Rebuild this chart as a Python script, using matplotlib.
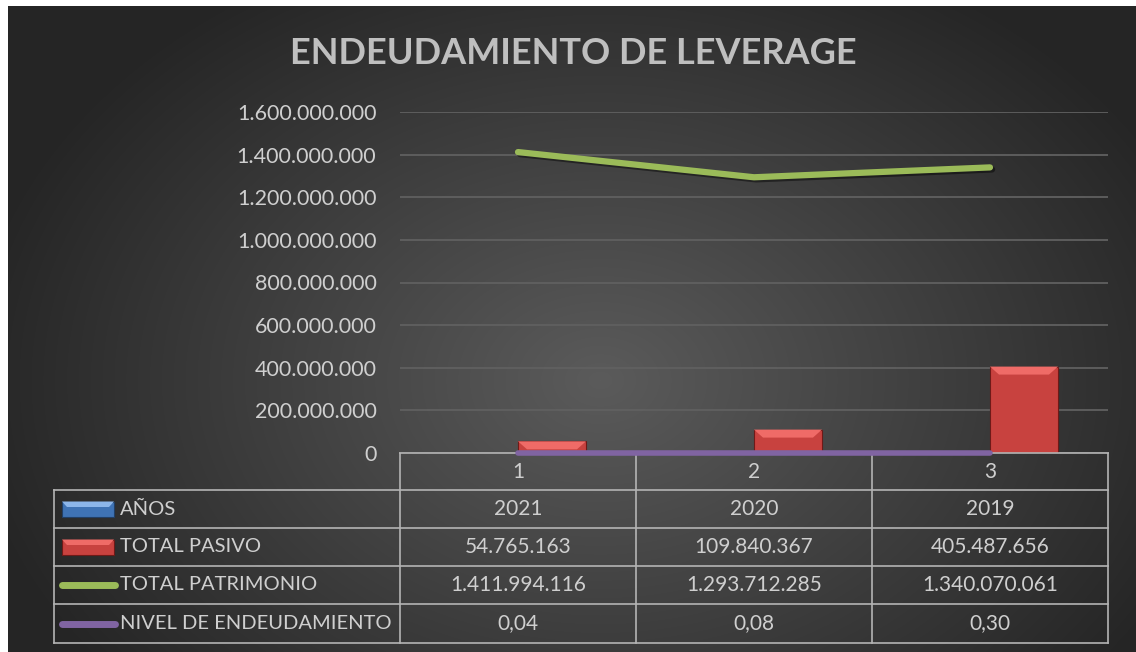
import numpy as np
import matplotlib.pyplot as plt
from matplotlib.patches import Polygon, Rectangle
from matplotlib import patheffects as pe
from matplotlib.ticker import FuncFormatter
from matplotlib.transforms import blended_transform_factory

plt.rcParams['font.family'] = ['Lato', 'DejaVu Sans']

# data
categorias = ['1', '2', '3']
anios = [2021, 2020, 2019]
total_pasivo = [54765163, 109840367, 405487656]
total_patrimonio = [1411994116, 1293712285, 1340070061]
nivel_endeudamiento = [0.04, 0.08, 0.30]
series = ['AÑOS', 'TOTAL PASIVO', 'TOTAL PATRIMONIO', 'NIVEL DE ENDEUDAMIENTO']
titulo = 'ENDEUDAMIENTO DE LEVERAGE'


def miles(v):
    return f"{int(round(v)):,}".replace(',', '.')


def decimal(v):
    return f"{v:.2f}".replace('.', ',')


W, H = 1136, 652
fig = plt.figure(figsize=(W / 100, H / 100), dpi=100, facecolor='white')

# background with radial gradient
bg = fig.add_axes([0, 0, 1, 1], zorder=0)
bg.set_xlim(0, W)
bg.set_ylim(H, 0)
bg.axis('off')
yy, xx = np.mgrid[6:H, 8:W]
r = np.sqrt(((xx - 600) / 640.) ** 2 + ((yy - 380) / 470.) ** 2)
shade = (0x5b - (0x5b - 0x25) * np.clip(r, 0, 1)) / 255.
bg.imshow(np.dstack([shade] * 3), extent=(8, W, H, 6), aspect='auto',
          interpolation='bilinear', zorder=0)

txt = '#cfcfcf'
grid_col = '#606060'
tab_col = '#b4b4b4'

bg.text(573, 54, titulo, ha='center', va='center', fontsize=26,
        fontweight='bold', color='#bfbfbf')

# plot area
ax = fig.add_axes([400 / W, 1 - 453 / H, 708 / W, 341 / H], zorder=2)
ax.patch.set_alpha(0)
ax.set_xlim(0, 3)
ax.set_ylim(0, 1.6e9)
ax.set_yticks(np.arange(0, 1.7e9, 2e8))
ax.yaxis.set_major_formatter(FuncFormatter(lambda v, p: miles(v)))
ax.yaxis.grid(True, color=grid_col, lw=1.3)
ax.set_axisbelow(True)
ax.set_xticks([])
ax.tick_params(axis='y', length=0, pad=17, labelsize=15.5, labelcolor=txt)
for s in ['top', 'left', 'right']:
    ax.spines[s].set_visible(False)
ax.spines['bottom'].set_color(tab_col)
ax.spines['bottom'].set_linewidth(1.2)

x = np.arange(len(categorias)) + 0.5
w = 0.288
px_y = 1.6e9 / 341
px_x = 1 / 236.

ax.bar(x - w / 2, anios, w, color='#4f81bd', zorder=2)
ax.bar(x + w / 2, total_pasivo, w, color='#c8423f', edgecolor='#6e1a18',
       lw=0.8, zorder=2)
for xi, v in zip(x + w / 2, total_pasivo):
    h = min(8 * px_y, v * 0.75)
    d = 9 * px_x
    x0, x1 = xi - w / 2, xi + w / 2
    ax.add_patch(Polygon([(x0, v), (x1, v), (x1 - d, v - h), (x0 + d, v - h)],
                         closed=True, facecolor='#ef6b67', edgecolor='none',
                         zorder=3))

ax.plot(x, total_patrimonio, color='#9bbb59', lw=4.5, solid_capstyle='round',
        solid_joinstyle='round', zorder=4,
        path_effects=[pe.SimpleLineShadow(offset=(1.5, -1.5),
                                          shadow_color='black', alpha=0.45),
                      pe.Normal()])
ax.plot(x, nivel_endeudamiento, color='#8064a2', lw=4, solid_capstyle='round',
        clip_on=False, zorder=5)

# data table
tr = blended_transform_factory(ax.transData, bg.transData)
rows = [490, 528, 566, 604, 643]
for k in range(len(categorias) + 1):
    bg.plot([k, k], [453, 643], transform=tr, color=tab_col, lw=1.2,
            clip_on=False, zorder=1)
bg.plot([54, 54], [490, 643], color=tab_col, lw=1.2, zorder=1)
for yv in rows:
    bg.plot([54, 1108], [yv, yv], color=tab_col, lw=1.2, zorder=1)

for xi, c in zip(x, categorias):
    bg.text(xi, 471.5, c, transform=tr, ha='center', va='center',
            fontsize=15, color=txt)

valores = [
    [str(a) for a in anios],
    [miles(v) for v in total_pasivo],
    [miles(v) for v in total_patrimonio],
    [decimal(v) for v in nivel_endeudamiento],
]
for j, (nombre, fila) in enumerate(zip(series, valores)):
    yc = (rows[j] + rows[j + 1]) / 2
    for xi, s in zip(x, fila):
        bg.text(xi, yc, s, transform=tr, ha='center', va='center',
                fontsize=15, color=txt)
    bg.text(120, yc, nombre, ha='left', va='center', fontsize=14.5, color=txt)

# legend keys
def llave_barra(yc, cara, bisel, borde):
    bg.add_patch(Rectangle((62, yc - 7.5), 52, 15, facecolor=cara,
                           edgecolor=borde, lw=0.8, zorder=2))
    bg.add_patch(Polygon([(62, yc - 7.5), (114, yc - 7.5), (109, yc - 2),
                          (67, yc - 2)], closed=True, facecolor=bisel,
                         edgecolor='none', zorder=3))


llave_barra(509, '#3f73b5', '#8cb6ea', '#213f66')
llave_barra(547, '#c8423f', '#ef6b67', '#6e1a18')
bg.plot([62, 115], [585, 585], color='#9bbb59', lw=5, solid_capstyle='round',
        zorder=2)
bg.plot([62, 115], [623.5, 623.5], color='#8064a2', lw=5,
        solid_capstyle='round', zorder=2)

fig.savefig('out.png', dpi=100, facecolor='white')
